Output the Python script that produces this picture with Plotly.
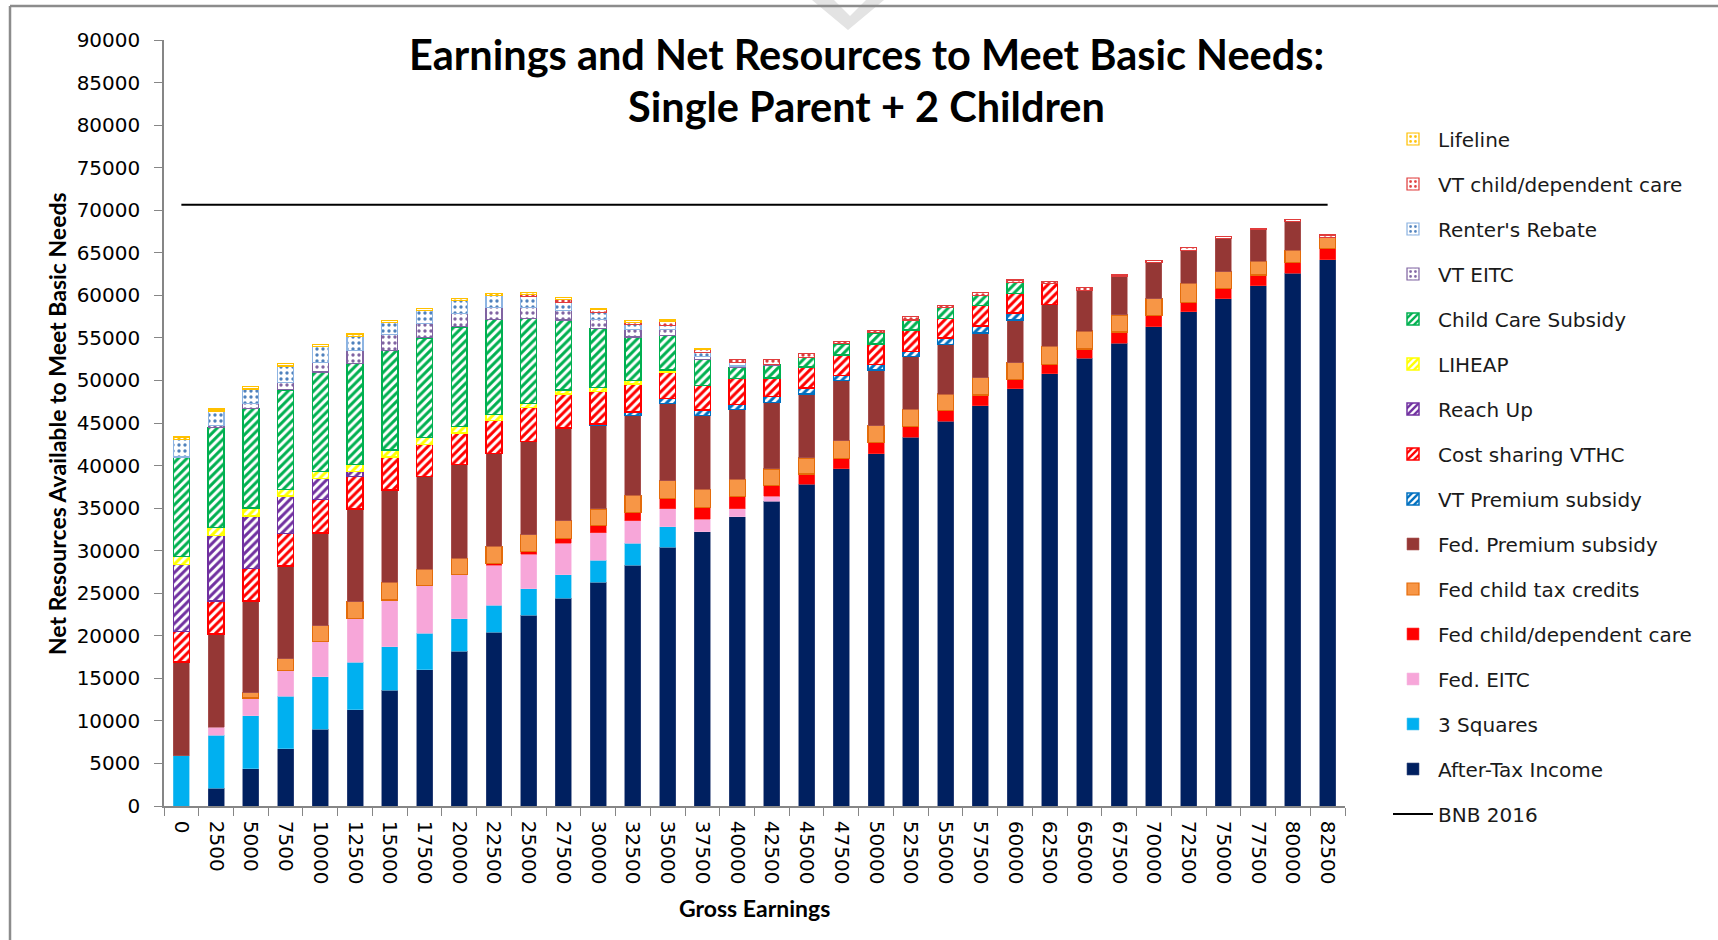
import plotly.graph_objects as go

# ---------------- data ----------------
earnings = ["0", "2500", "5000", "7500", "10000", "12500", "15000", "17500", "20000",
            "22500", "25000", "27500", "30000", "32500", "35000", "37500", "40000",
            "42500", "45000", "47500", "50000", "52500", "55000", "57500", "60000",
            "62500", "65000", "67500", "70000", "72500", "75000", "77500", "80000", "82500"]

after_tax = [0, 2100, 4400, 6700, 9000, 11300, 13600, 16000, 18200, 20400, 22400, 24400,
             26300, 28300, 30400, 32200, 34000, 35800, 37800, 39600, 41400, 43300, 45200,
             47000, 49000, 50800, 52600, 54400, 56300, 58100, 59600, 61100, 62600, 64200]
three_squares = [5900, 6200, 6200, 6200, 6200, 5600, 5100, 4300, 3800, 3200, 3100, 2800,
                 2600, 2600, 2400, 0, 0, 0, 0, 0, 0, 0, 0, 0, 0, 0, 0, 0, 0, 0, 0, 0, 0, 0]
fed_eitc = [0, 950, 2100, 3000, 4100, 5100, 5500, 5600, 5200, 4700, 4100, 3700, 3200, 2600,
            2100, 1500, 900, 600, 0, 0, 0, 0, 0, 0, 0, 0, 0, 0, 0, 0, 0, 0, 0, 0]
fed_cdc = [0, 0, 0, 0, 0, 0, 0, 0, 0, 200, 300, 500, 900, 1000, 1200, 1400, 1500, 1300,
           1200, 1200, 1300, 1300, 1300, 1300, 1100, 1100, 1100, 1300, 1300, 1100, 1200,
           1300, 1300, 1300]
fed_ctc = [0, 0, 600, 1400, 1900, 2000, 2100, 1900, 1900, 2000, 2000, 2100, 1900, 2000,
           2100, 2100, 2000, 1900, 1900, 2100, 2000, 2000, 1900, 2000, 2000, 2100, 2100,
           2000, 2000, 2200, 2000, 1600, 1400, 1300]
fed_prem = [11000, 10950, 10800, 10900, 10900, 10900, 10800, 10900, 11000, 10900, 10900,
            10900, 9800, 9400, 9100, 8700, 8200, 7800, 7500, 7100, 6500, 6200, 5800, 5300,
            5000, 4900, 4800, 4500, 4300, 3900, 3900, 3700, 3400, 0]
vt_prem = [0, 0, 0, 0, 0, 0, 0, 0, 0, 0, 0, 0, 200, 400, 600, 600, 600, 700, 700, 600, 700,
           600, 800, 800, 800, 0, 0, 0, 0, 0, 0, 0, 0, 0]
cost_sharing = [3600, 3900, 3800, 3800, 3900, 3800, 3900, 3800, 3700, 3900, 4000, 4000,
                3800, 3300, 3100, 2900, 3000, 2200, 2500, 2400, 2400, 2500, 2300, 2400,
                2300, 2500, 0, 0, 0, 0, 0, 0, 0, 0]
reach_up = [7900, 7700, 6200, 4400, 2500, 600, 0, 0, 0, 0, 0, 0, 0, 0, 0, 0, 0, 0, 0, 0,
            0, 0, 0, 0, 0, 0, 0, 0, 0, 0, 0, 0, 0, 0]
liheap = [900, 900, 900, 800, 800, 800, 800, 800, 800, 700, 500, 500, 500, 400, 200, 0, 0,
          0, 0, 0, 0, 0, 0, 0, 0, 0, 0, 0, 0, 0, 0, 0, 0, 0]
child_care = [11700, 11800, 11700, 11700, 11700, 11900, 11700, 11700, 11700, 11200, 10000,
              8200, 6900, 5100, 4100, 3100, 1300, 1500, 1100, 1300, 1300, 1200, 1300, 1200,
              1300, 0, 0, 0, 0, 0, 0, 0, 0, 0]
vt_eitc = [0, 200, 600, 900, 1100, 1500, 1900, 1700, 1600, 1400, 1300, 1100, 1100, 900, 700,
           300, 200, 100, 0, 0, 0, 0, 0, 0, 0, 0, 0, 0, 0, 0, 0, 0, 0, 0]
renters = [2100, 1700, 1700, 1900, 1900, 1700, 1400, 1500, 1500, 1400, 1300, 1000, 800, 600,
           500, 500, 400, 0, 0, 0, 0, 0, 0, 0, 0, 0, 0, 0, 0, 0, 0, 0, 0, 0]
vt_cdc = [0, 0, 0, 0, 0, 0, 0, 0, 0, 0, 200, 300, 300, 200, 400, 400, 400, 600, 500, 300,
          300, 400, 200, 300, 300, 200, 300, 200, 200, 300, 200, 200, 200, 300]
lifeline = [250, 250, 250, 250, 250, 250, 250, 300, 250, 250, 200, 250, 200, 200, 200, 100,
            0, 0, 0, 0, 0, 0, 0, 0, 0, 0, 0, 0, 0, 0, 0, 0, 0, 0]
BNB_2016 = 70650
bnb_line = [BNB_2016] * len(earnings)

# ---------------- geometry helpers ----------------
W, H = 1718, 940
PL, PR, PT, PB = 164, 1345, 40, 806


def px(x):
    return (x - PL) / (PR - PL)


def py(y):
    return (PB - y) / (PB - PT)


# (name, values, color, line color, line width, pattern shape)
series = [
    ("After-Tax Income", after_tax, "#002060", "#3a4f80", 0.6, None),
    ("3 Squares", three_squares, "#00B0F0", "#5cc8f0", 0.6, None),
    ("Fed. EITC", fed_eitc, "#F7A6D9", "#f7bde2", 0.6, None),
    ("Fed child/dependent care", fed_cdc, "#FF0000", "#ff4040", 0.6, None),
    ("Fed child tax credits", fed_ctc, "#F79646", "#E46C0A", 1.2, None),
    ("Fed. Premium subsidy", fed_prem, "#953735", "#b05a58", 0.6, None),
    ("VT Premium subsidy", vt_prem, "#0070C0", "#0070C0", 1.5, "/"),
    ("Cost sharing VTHC", cost_sharing, "#FF0000", "#FF0000", 1.5, "/"),
    ("Reach Up", reach_up, "#7030A0", "#7030A0", 1.5, "/"),
    ("LIHEAP", liheap, "#FFFF00", "#FFFF00", 1.5, "/"),
    ("Child Care Subsidy", child_care, "#00B050", "#00B050", 1.5, "/"),
    ("VT EITC", vt_eitc, "#8064A2", "#8064A2", 1.2, "."),
    ("Renter's Rebate", renters, "#4F81BD", "#8DB4E2", 1.2, "."),
    ("VT child/dependent care", vt_cdc, "#E03C3C", "#E03C3C", 1.2, "."),
    ("Lifeline", lifeline, "#FFC000", "#FFC000", 1.2, "."),
]

fig = go.Figure()
n = len(series)

for i, (name, vals, color, lcolor, lw, shape) in enumerate(series):
    yv = [v if v else None for v in vals]
    marker = dict(color=color if shape is None else "white",
                  line=dict(color=lcolor, width=lw))
    if shape == "/":
        marker["pattern"] = dict(shape="/", fgcolor=color, bgcolor="white",
                                 size=6, solidity=0.5, fillmode="replace")
    elif shape == ".":
        marker["pattern"] = dict(shape=".", fgcolor=color, bgcolor="white",
                                 size=6, solidity=0.25, fillmode="replace")
    fig.add_trace(go.Bar(x=earnings, y=yv, name=name, marker=marker,
                         legendgroup=name, legendrank=n - i))

fig.add_trace(go.Scatter(
    x=earnings, y=bnb_line, mode="lines", name="BNB 2016",
    line=dict(color="black", width=2), legendgroup="bnb", legendrank=n + 1,
))

tick_font = dict(family="DejaVu Sans", size=20, color="black")

fig.update_layout(
    width=W, height=H,
    barmode="stack", bargap=0.54,
    plot_bgcolor="white", paper_bgcolor="white",
    margin=dict(l=PL, r=W - PR, t=PT, b=H - PB, autoexpand=False),
    showlegend=True,
    legend=dict(
        x=px(1388), y=py(119.5), xanchor="left", yanchor="top",
        traceorder="grouped", tracegroupgap=16,
        font=dict(family="DejaVu Sans", size=20, color="#1a1a1a"),
        bgcolor="rgba(0,0,0,0)", itemwidth=40,
    ),
    xaxis=dict(
        type="category", tickangle=90, tickfont=tick_font,
        showline=True, linecolor="#868686", linewidth=1.5,
        ticks="outside", ticklen=8, tickcolor="#868686", tickson="boundaries",
        showgrid=False, ticklabelstandoff=9,
    ),
    yaxis=dict(
        range=[0, 90000], dtick=5000, tickfont=tick_font,
        showline=True, linecolor="#868686", linewidth=1.5,
        ticks="outside", ticklen=8, tickcolor="#868686",
        showgrid=False, zeroline=False, ticklabelstandoff=10,
        tickformat="d",
    ),
    annotations=[
        dict(text="<b>Earnings and Net Resources to Meet Basic Needs:</b>",
             x=px(867), y=py(54), xref="paper", yref="paper", showarrow=False,
             font=dict(family="Lato", size=41.5, color="black"),
             xanchor="center", yanchor="middle"),
        dict(text="<b>Single Parent + 2 Children</b>",
             x=px(867), y=py(106), xref="paper", yref="paper", showarrow=False,
             font=dict(family="Lato", size=41.5, color="black"),
             xanchor="center", yanchor="middle"),
        dict(text="<b>Net Resources Available to Meet Basic Needs</b>",
             x=px(57), y=py(424), xref="paper", yref="paper", showarrow=False,
             textangle=-90, font=dict(family="Lato", size=23, color="black"),
             xanchor="center", yanchor="middle"),
        dict(text="<b>Gross Earnings</b>",
             x=px(754), y=py(908), xref="paper", yref="paper", showarrow=False,
             font=dict(family="Lato", size=23, color="black"),
             xanchor="center", yanchor="middle"),
    ],
    shapes=[
        dict(type="path", xref="paper", yref="paper", layer="below",
             path="M {a},{t} L {b},{t} L {c},{m} L {d},{t} L {e},{t} L {f},{bt} Z".format(
                 a=px(812), b=px(834), c=px(850), d=px(866), e=px(884), f=px(848),
                 t=py(0), m=py(16), bt=py(30)),
             fillcolor="#e3e3e3", line=dict(width=0)),
        dict(type="line", xref="paper", yref="paper",
             x0=px(10), x1=px(10), y0=py(6), y1=py(945),
             line=dict(color="#8c8c8c", width=2.5)),
        dict(type="line", xref="paper", yref="paper",
             x0=px(10), x1=px(1725), y0=py(6), y1=py(6),
             line=dict(color="#8c8c8c", width=2.5)),
    ],
)

fig.write_html("out.html", config={"displayModeBar": False},
               post_script="document.body.style.margin='0';")
